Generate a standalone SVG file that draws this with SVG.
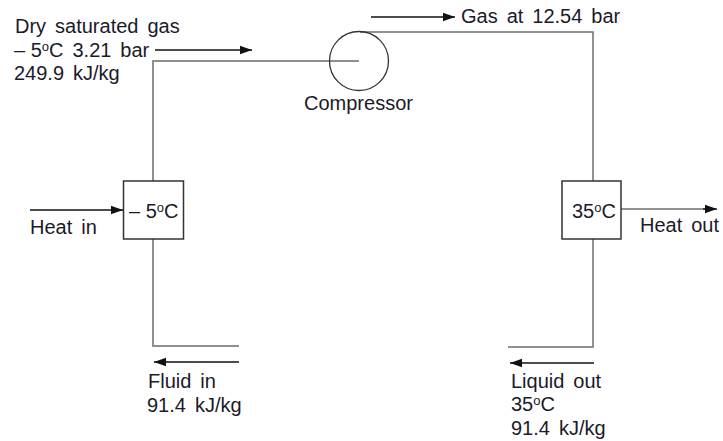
<svg xmlns="http://www.w3.org/2000/svg" width="723" height="441" viewBox="0 0 723 441">
<style>
text{font-family:"Liberation Sans",Arial,sans-serif;font-size:20px;fill:#1a1a2a;word-spacing:3.4px}
.sup{font-size:13px;word-spacing:0}
.tight{word-spacing:0}
.pipe{fill:none;stroke:#8f8f8f;stroke-width:2}
.pipe2{fill:none;stroke:#6e6e6e;stroke-width:1.5}
.flow{fill:none;stroke:#111;stroke-width:1.3}
.box{fill:#fff;stroke:#333;stroke-width:1.5}
</style>
<defs><marker id="a" markerUnits="userSpaceOnUse" markerWidth="12" markerHeight="10" refX="12" refY="5" orient="auto"><path d="M0 0.8L12 5L0 9.2z" fill="#111"/></marker></defs>
<g id="connectors">
<path class="pipe" d="M153 181V61H359"/>
<path class="pipe" d="M153 239V346H239"/>
<path class="pipe2" d="M360 32H593V181"/>
<path class="pipe2" d="M593 239V347H508"/>
<path class="flow" d="M155 50H252" marker-end="url(#a)"/>
<path class="flow" d="M371 17H455" marker-end="url(#a)"/>
<path class="flow" d="M30 210H123" marker-end="url(#a)"/>
<path class="pipe2" d="M621 209H707"/><path class="flow" d="M703 209H717" marker-end="url(#a)"/>
<path class="flow" d="M239 362H154" marker-end="url(#a)"/>
<path class="flow" d="M594 363H510" marker-end="url(#a)"/>
</g>
<g id="compressor"><circle cx="359" cy="61" r="29.500" fill="none" stroke="#333" stroke-width="1.3"/><text x="304" y="110">Compressor</text></g>
<g id="evaporator"><rect class="box" x="123.500" y="181" width="60" height="58"/><text x="129" y="218" class="tight">– 5<tspan class="sup" dy="-6">o</tspan><tspan dy="6">C</tspan></text></g>
<g id="condenser"><rect class="box" x="562" y="181" width="59" height="58"/><text x="572" y="218">35<tspan class="sup" dy="-6">o</tspan><tspan dy="6">C</tspan></text></g>
<g id="labels">
<text x="15" y="33">Dry saturated gas</text>
<text x="14" y="57" class="tight">– 5<tspan class="sup" dy="-6">o</tspan><tspan dy="6" style="word-spacing:3.4px">C 3.21 bar</tspan></text>
<text x="14" y="80">249.9 kJ/kg</text>
<text x="461" y="23">Gas at 12.54 bar</text>
<text x="30" y="234">Heat in</text>
<text x="640" y="232">Heat out</text>
<text x="148" y="388">Fluid in</text>
<text x="147" y="412">91.4 kJ/kg</text>
<text x="511" y="388">Liquid out</text>
<text x="511" y="411">35<tspan class="sup" dy="-6">o</tspan><tspan dy="6">C</tspan></text>
<text x="511" y="435">91.4 kJ/kg</text>
</g>
</svg>
